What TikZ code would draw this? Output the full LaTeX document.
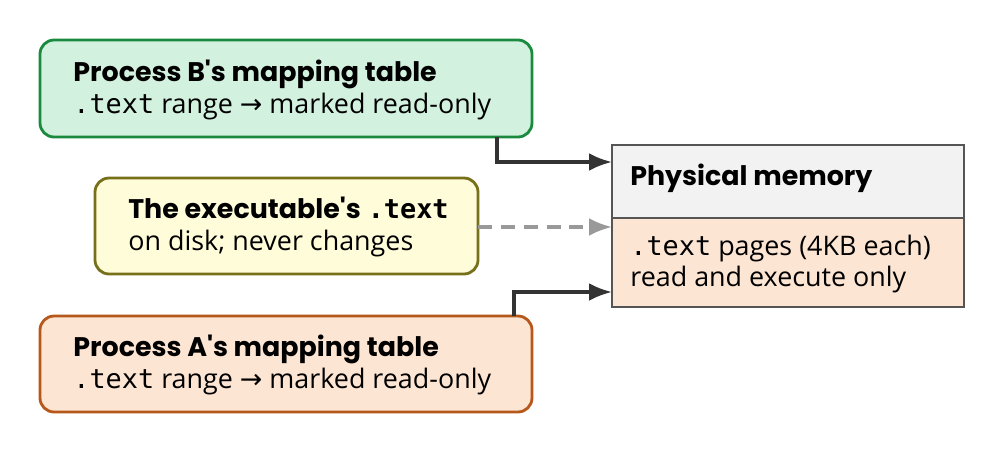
\documentclass[tikz,border=0pt]{standalone}
\usepackage{fontspec}
\setmainfont{Open Sans}
\newfontfamily\titlefont{Poppins}
\newfontfamily\symfont{DejaVu Sans}
\setmonofont{DejaVu Sans Mono}
\usetikzlibrary{arrows.meta}
\definecolor{bfill}{HTML}{D3F1DF}\definecolor{bline}{HTML}{1A8A3F}
\definecolor{efill}{HTML}{FFFCD9}\definecolor{eline}{HTML}{77701A}
\definecolor{afill}{HTML}{FDE5D3}\definecolor{aline}{HTML}{B5581A}
\definecolor{hfill}{HTML}{F2F2F2}\definecolor{mline}{HTML}{555555}
\definecolor{arr}{HTML}{333333}\definecolor{darr}{HTML}{999999}
\tikzset{
  box/.style={draw,line width=1.6pt,rounded corners=8pt},
  txt/.style={anchor=west,align=left,inner sep=0pt,font=\fontsize{15.3pt}{18pt}\selectfont},
  conn/.style={draw=arr,line width=1.8pt,-{Latex[length=13pt,width=10pt]}}
}
\newcommand{\ttl}[1]{{\titlefont\bfseries #1}}
\newcommand{\rarr}{{\symfont →}}
\begin{document}
\begin{tikzpicture}[x=0.02cm,y=-0.02cm]
  \useasboundingbox (0,0) rectangle (1005,454);
  % boxes
  \draw[box,draw=bline,fill=bfill] (40,40) rectangle (532,137);
  \draw[box,draw=eline,fill=efill] (95,178) rectangle (478,274);
  \draw[box,draw=aline,fill=afill] (40,316) rectangle (532,412);
  % physical memory
  \fill[hfill] (612,145) rectangle (964,218);
  \fill[afill] (612,218) rectangle (964,307);
  \draw[mline,line width=1.3pt] (612,145) rectangle (964,307) (612,218) -- (964,218);
  % labels
  \node[txt] (bt) at (73,90) {\ttl{Process B's mapping table}\\\texttt{.text} range \rarr{} marked read-only};
  \node[txt] (et) at (128,227) {\ttl{The executable's} {\bfseries\texttt{.text}}\\on disk; never changes};
  \node[txt] (at) at (73,365) {\ttl{Process A's mapping table}\\\texttt{.text} range \rarr{} marked read-only};
  \node[txt] (mh) at (630,178) {\ttl{Physical memory}};
  \node[txt] (mb) at (630,264) {\texttt{.text} pages (4KB each)\\read and execute only};
  % connectors
  \coordinate (b0) at (497,137); \coordinate (b1) at (612,162);
  \coordinate (e0) at (478,227); \coordinate (e1) at (612,227);
  \coordinate (a0) at (514,316); \coordinate (a1) at (612,292);
  \draw[conn] (b0) |- (b1);
  \draw[conn,draw=darr,dash pattern=on 8pt off 5pt] (e0) -- (e1);
  \draw[conn] (a0) |- (a1);
\end{tikzpicture}
\end{document}
